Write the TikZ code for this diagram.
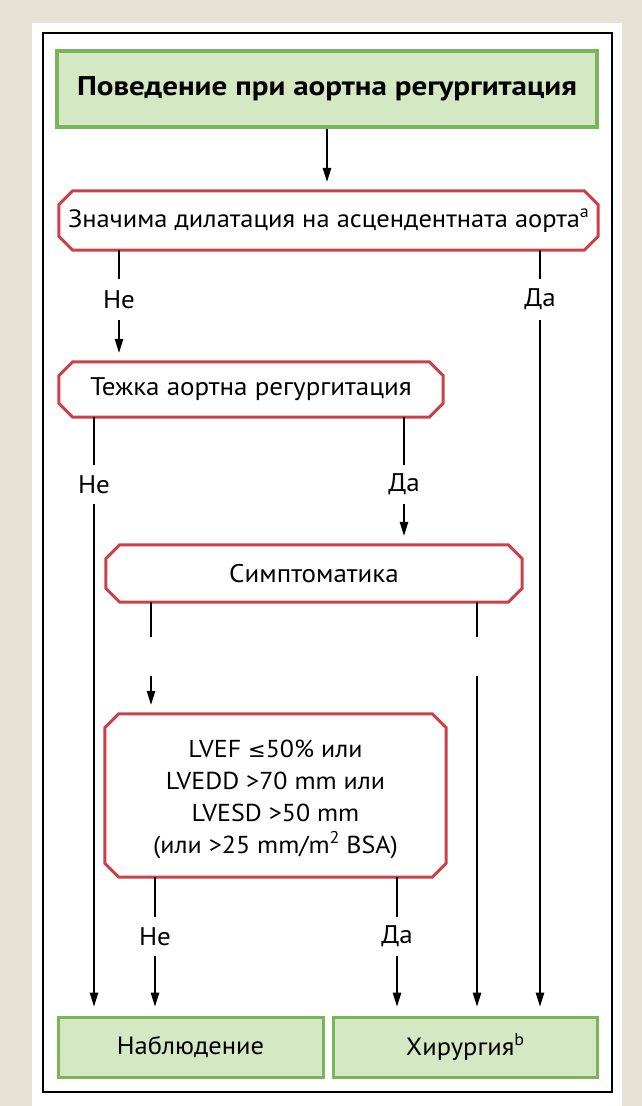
\documentclass[tikz,border=0pt]{standalone}
\usepackage{fontspec}
\setmainfont{PT Sans}[FakeStretch=1.06]
\newfontfamily\headfont{PT Sans}[FakeStretch=1.15]
\newfontfamily\symfont{DejaVu Sans}
\usetikzlibrary{arrows.meta,calc}
\definecolor{paper}{RGB}{232,225,213}
\definecolor{boxgreen}{RGB}{122,181,92}
\definecolor{fillgreen}{RGB}{213,232,196}
\definecolor{decred}{RGB}{204,64,74}

% raised footnote mark / exponent
\newcommand{\upmark}[1]{\raisebox{0.4em}{\fontsize{17}{17}\selectfont #1}}

% octagonal outline around a named rectangular node
\newcommand{\cutframe}[2][14pt]{%
  \draw[decborder] ([xshift=#1]#2.north west) -- ([xshift=-#1]#2.north east)
    -- ([yshift=-#1]#2.north east) -- ([yshift=#1]#2.south east)
    -- ([xshift=-#1]#2.south east) -- ([xshift=#1]#2.south west)
    -- ([yshift=#1]#2.south west) -- ([yshift=-#1]#2.north west) -- cycle;}

\begin{document}
\begin{tikzpicture}[x=1pt,y=-1pt,
  txt/.style={font=\fontsize{25.5}{32}\selectfont},
  endbox/.style={txt, rectangle, draw=boxgreen, fill=fillgreen, line width=3pt, inner sep=0pt},
  titlebox/.style={endbox, line width=3.5pt, font=\headfont\bfseries\fontsize{27}{30}\selectfont},
  decnode/.style={txt, rectangle, inner sep=0pt, align=center},
  decborder/.style={draw=decred, line width=3pt, line join=miter},
  lbl/.style={txt, inner sep=0pt},
  flow/.style={line width=1.1pt},
  arr/.style={flow, -{Triangle[length=14pt,width=8.5pt]}, shorten >=9pt}]

% page, panel and frame
\fill[paper] (0,0) rectangle (642,1106);
\fill[white] (32,23) rectangle (622,1106);
\draw[line width=2.2pt] (43,33) rectangle (612,1092);

% boxes
\node[titlebox, minimum width=540pt, minimum height=76pt] (title) at (327,89)
  {Поведение при аортна регургитация};

\node[decnode, minimum width=539pt, minimum height=59pt] (d1) at (328.5,220.5)
  {\fontsize{25}{32}\selectfont Значима дилатация на асцендентната аорта\upmark{a}};
\cutframe{d1}

\node[decnode, minimum width=384pt, minimum height=55pt] (d2) at (251,389.5)
  {Тежка аортна регургитация};
\cutframe{d2}

\node[decnode, minimum width=416pt, minimum height=57pt] (d3) at (314,573.5)
  {Симптоматика};
\cutframe{d3}

\node[decnode, minimum width=341pt, minimum height=163pt] (d4) at (275.5,795.5) {};
\node[decnode, font=\fontsize{24.5}{32}\selectfont] (d4text) at ([yshift=-4pt]d4.center)
  {LVEF {\symfont\fontsize{21}{32}\selectfont ≤}50\% или\\LVEDD >70 mm или\\LVESD >50 mm\\(или >25 mm/m\upmark{2} BSA)};
\cutframe{d4}

\node[endbox, minimum width=265pt, minimum height=60pt, font=\fontsize{25}{30}\selectfont] (nab) at (190.5,1047)
  {\raisebox{-3pt}{Наблюдение}};
\node[endbox, minimum width=264pt, minimum height=60pt, font=\fontsize{25}{30}\selectfont] (hir) at (465,1047)
  {\raisebox{-3pt}{Хирургия\upmark{b}}};

% labels sitting in the gaps of the connectors
\node[lbl, minimum height=41pt] (l1) at (119,299.5) {Не};
\node[lbl, minimum height=41pt] (l2) at (540,299.5) {Да};
\node[lbl, minimum height=39pt] (l3) at (94,484.5) {Не};
\node[lbl, minimum height=39pt] (l4) at (404,484.5) {Да};
\node[lbl, minimum height=39pt] (g5) at (151,656.5) {};
\node[lbl, minimum height=39pt] (g6) at (477,656.5) {};
\node[lbl, minimum height=39pt] (l7) at (155,936.5) {Не};
\node[lbl, minimum height=39pt] (l8) at (397,936.5) {Да};

% connectors
\draw[arr] (title.south) -- (title.south |- d1.north);

\draw[flow] (d1.south -| l1) -- (l1.north);
\draw[arr] (l1.south) -- (l1.south |- d2.north);
\draw[flow] (d1.south -| l2) -- (l2.north);
\draw[arr] (l2.south) -- (l2.south |- hir.north);

\draw[flow] (d2.south -| l3) -- (l3.north);
\draw[arr] (l3.south) -- (l3.south |- nab.north);
\draw[flow] (d2.south -| l4) -- (l4.north);
\draw[arr] (l4.south) -- (l4.south |- d3.north);

\draw[flow] (d3.south -| g5) -- (g5.north);
\draw[arr] (g5.south) -- (g5.south |- d4.north);
\draw[flow] (d3.south -| g6) -- (g6.north);
\draw[arr] (g6.south) -- (g6.south |- hir.north);

\draw[flow] (d4.south -| l7) -- (l7.north);
\draw[arr] (l7.south) -- (l7.south |- nab.north);
\draw[flow] (d4.south -| l8) -- (l8.north);
\draw[arr] (l8.south) -- (l8.south |- hir.north);
\end{tikzpicture}
\end{document}
